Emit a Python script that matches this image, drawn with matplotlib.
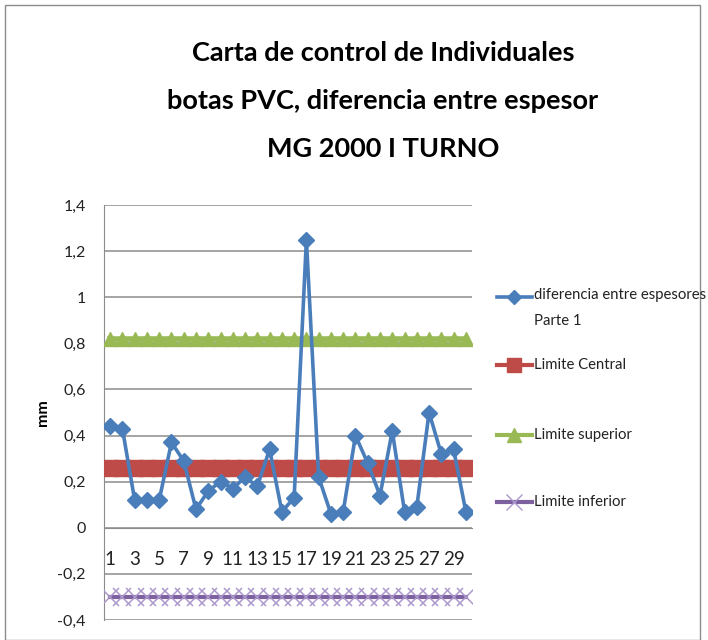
import matplotlib
matplotlib.use("Agg")
import matplotlib.pyplot as plt
from matplotlib.lines import Line2D
from matplotlib.patches import Rectangle
from matplotlib.ticker import FuncFormatter

plt.rcParams['font.family'] = ['Lato', 'DejaVu Sans']

# ---- data ----
muestras = list(range(1, 31))
diferencia = [0.44, 0.43, 0.12, 0.12, 0.12, 0.37, 0.29, 0.08, 0.16, 0.20,
              0.17, 0.22, 0.18, 0.34, 0.07, 0.13, 1.25, 0.22, 0.06, 0.07,
              0.40, 0.28, 0.14, 0.42, 0.07, 0.09, 0.50, 0.32, 0.34, 0.07]
limite_central = [0.26] * 30
limite_superior = [0.82] * 30
limite_inferior = [-0.30] * 30
y_ticks = [-0.4, -0.2, 0, 0.2, 0.4, 0.6, 0.8, 1.0, 1.2, 1.4]
x_ticks = list(range(1, 30, 2))

series_labels = ["diferencia entre espesores\nParte 1", "Limite Central",
                 "Limite superior", "Limite inferior"]
title = "Carta de control de Individuales\nbotas PVC, diferencia entre espesor\nMG 2000 I TURNO"

BLUE = '#4A7EBB'
RED = '#BE4B48'
GREEN = '#98B954'
PURPLE = '#7D60A0'
LPURPLE = '#AC98CC'

fig = plt.figure(figsize=(7.08, 6.4), dpi=100)
W, H = 708, 640
ax = fig.add_axes([104 / W, 1 - 620 / H, (472 - 104) / W, (620 - 205) / H])

# series
ax.plot(muestras, limite_inferior, color=PURPLE, lw=3, marker='x', ms=13.5,
        mec=LPURPLE, mew=1.1, zorder=3)
ax.plot(muestras, limite_superior, color=GREEN, lw=4, marker='^', ms=10,
        mec=GREEN, mfc=GREEN, zorder=3)
ax.plot(muestras, limite_central, color=RED, lw=4, marker='s', ms=11,
        mec=RED, mfc=RED, zorder=3)
ax.plot(muestras, diferencia, color=BLUE, lw=2.6, marker='D', ms=8,
        mec=BLUE, mfc=BLUE, zorder=4)

ax.set_xlim(0.5, 30.5)
ax.set_ylim(-0.4, 1.4)
ax.set_yticks(y_ticks)
ax.yaxis.set_major_formatter(FuncFormatter(
    lambda v, p: ('%g' % round(v, 1)).replace('.', ',')))
ax.set_xticks(x_ticks)
ax.set_xticklabels([str(x) for x in x_ticks])

ax.grid(axis='y', color='#8c8c8c', lw=1.1)
ax.set_axisbelow(True)
for s in ['top', 'right']:
    ax.spines[s].set_visible(False)
ax.spines['left'].set_color('#8c8c8c')
ax.spines['bottom'].set_color('#8c8c8c')
ax.spines['bottom'].set_position(('data', 0))
ax.tick_params(axis='x', length=0, pad=17, labelsize=13.5, colors='#222222')
ax.tick_params(axis='y', length=0, pad=13, labelsize=11.5, colors='#222222')

ax.set_ylabel('mm', fontsize=11.5, fontweight='bold', labelpad=5)

fig.text(383 / W, 1 - 101 / H, title, ha='center', va='center',
         fontsize=19.5, fontweight='bold', linespacing=2.2)

# legend (manual placement)
handles = [
    dict(color=BLUE, marker='D', ms=7, mec=BLUE, mfc=BLUE, lw=2.6, mew=1),
    dict(color=RED, marker='s', ms=10, mec=RED, mfc=RED, lw=3, mew=1),
    dict(color=GREEN, marker='^', ms=10, mec=GREEN, mfc=GREEN, lw=3, mew=1),
    dict(color=PURPLE, marker='x', ms=12, mec=LPURPLE, lw=3, mew=1),
]
ys = [297, 365, 435, 502]
for h, y, lab in zip(handles, ys, series_labels):
    yf = 1 - y / H
    fig.add_artist(Line2D([497 / W, 532 / W], [yf, yf], transform=fig.transFigure,
                          color=h['color'], lw=h['lw']))
    fig.add_artist(Line2D([514 / W], [yf], transform=fig.transFigure,
                          marker=h['marker'], ms=h['ms'], mec=h['mec'],
                          mfc=h.get('mfc', 'none'), mew=h['mew'], ls='none'))
    if '\n' in lab:
        fig.text(534 / W, yf + 9 / H, lab, ha='left', va='top',
                 fontsize=10.7, linespacing=2.05, color='#222222')
    else:
        fig.text(534 / W, yf, lab, ha='left', va='center', fontsize=10.7,
                 color='#222222')

fig.add_artist(Rectangle((5 / W, 0), 695 / W, 1 - 5 / H, transform=fig.transFigure,
                         fill=False, ec='#8c8c8c', lw=1))

fig.savefig('out.png', dpi=100)
